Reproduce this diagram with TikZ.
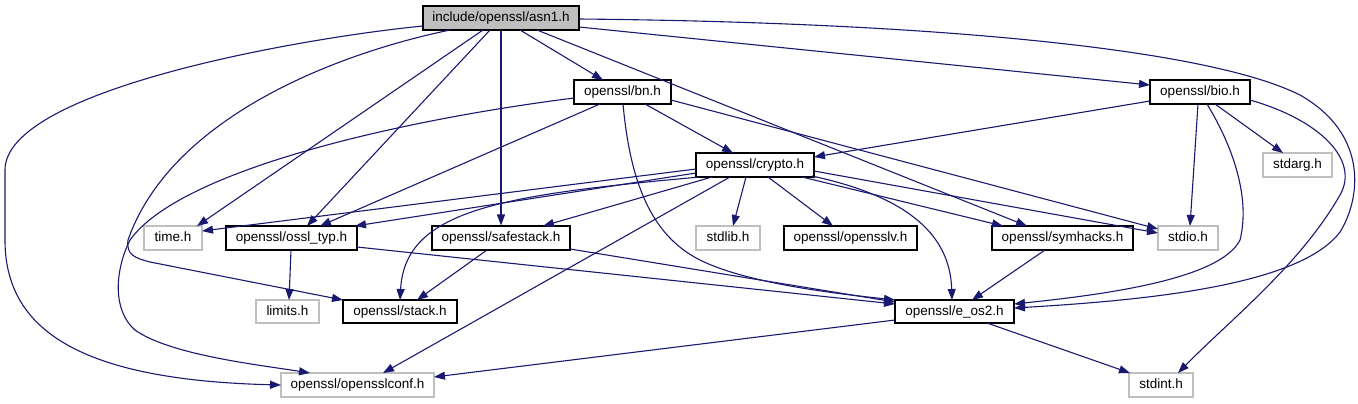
\documentclass[tikz,border=0pt]{standalone}
\usepackage{fontspec}
\setmainfont{Liberation Sans}
\usetikzlibrary{arrows.meta,calc}
\definecolor{edgeblue}{HTML}{191970}
\definecolor{nodegray}{HTML}{BFBFBF}
\tikzset{
  box/.style={draw, line width=1.1bp, minimum height=24bp, inner sep=0pt,
    text height=9.6bp, text depth=2.6bp,
    font=\fontsize{13.5bp}{16bp}\selectfont},
  doc/.style={box, draw=black},
  sys/.style={box, draw=nodegray},
  edge/.style={draw=edgeblue, line width=1.1bp, -{Triangle[length=11bp,width=8bp]}, edgeblue}
}
\begin{document}
\begin{tikzpicture}[x=1bp,y=-1bp]
\useasboundingbox (0,0) rectangle (1358,403);
% nodes
\node[doc, fill=nodegray, minimum width=156bp] (asn1) at (501,18) {include/openssl/asn1.h};
\node[doc, minimum width=97bp] (bn) at (622.5,92) {openssl/bn.h};
\node[doc, minimum width=118bp] (crypto) at (755,165) {openssl/crypto.h};
\node[doc, minimum width=100bp] (bio) at (1200,92) {openssl/bio.h};
\node[sys, minimum width=69bp] (stdarg) at (1297.5,165) {stdarg.h};
\node[sys, minimum width=58bp] (time) at (173,238) {time.h};
\node[doc, minimum width=131bp] (ossl) at (291.5,238) {openssl/ossl\_typ.h};
\node[doc, minimum width=138bp] (safe) at (501,238) {openssl/safestack.h};
\node[doc, minimum width=114bp, minimum height=23bp] (stack) at (400,311.5) {openssl/stack.h};
\node[sys, minimum width=63bp, minimum height=23bp] (limits) at (287.5,311.5) {limits.h};
\node[sys, minimum width=153bp] (conf) at (357.5,385) {openssl/opensslconf.h};
\node[sys, minimum width=64bp] (stdlib) at (728,238) {stdlib.h};
\node[doc, minimum width=133bp] (sslv) at (850.5,238) {openssl/opensslv.h};
\node[doc, minimum width=141bp] (sym) at (1062.5,238) {openssl/symhacks.h};
\node[sys, minimum width=60bp] (stdio) at (1188,238) {stdio.h};
\node[doc, minimum width=119bp, minimum height=23bp] (eos2) at (954.5,311.5) {openssl/e\_os2.h};
\node[sys, minimum width=64bp] (stdint) at (1161,385) {stdint.h};
% asn1 edges
\path[edge] ($(asn1)+(-78,8)$) .. controls (300,38) and (5,90) .. (5,170) -- (5,240) .. controls (5,330) and (80,380) .. ($(conf)+(-76.5,0)$);
\path[edge] ($(asn1)+(-51,12)$) .. controls (330,55) and (170,120) .. (128,240) .. controls (126,255) and (135,258) .. (150,262) -- ($(stack)+(-57,-11.5)$);
\path[edge] ($(asn1)+(-18,12)$) -- ($(time)+(24,-12)$);
\path[edge] ($(asn1)+(-11,12)$) -- ($(ossl)+(15.5,-12)$);
\path[edge] (asn1.south) -- (safe.north);
\path[edge] ($(asn1)+(19,12)$) -- ($(bn)+(-19.5,-12)$);
\path[edge] ($(asn1)+(36,12)$) -- ($(sym)+(-35.5,-12)$);
\path[edge] ($(asn1)+(78,9)$) -- ($(bio)+(-50,-7)$);
\path[edge] ($(asn1)+(78,1)$) .. controls (900,22) and (1200,45) .. (1300,95) .. controls (1370,135) and (1360,200) .. (1340,232) .. controls (1300,285) and (1150,300) .. ($(eos2)+(59.5,-3.5)$);
% bn edges
\path[edge] ($(bn)+(-48.5,6)$) .. controls (400,120) and (180,170) .. (130,240) .. controls (115,270) and (112,310) .. (135,330) .. controls (170,355) and (260,365) .. ($(conf)+(-47.5,-12)$);
\path[edge] ($(bn)+(-22.5,12)$) -- ($(ossl)+(28.5,-12)$);
\path[edge] ($(bn)+(0.5,12)$) .. controls (630,180) and (650,235) .. (700,260) .. controls (750,285) and (850,295) .. ($(eos2)+(-59.5,-11.5)$);
\path[edge] ($(bn)+(22.5,12)$) -- ($(crypto)+(-22,-12)$);
\path[edge] ($(bn)+(48.5,8)$) -- ($(stdio)+(-30,-9)$);
% crypto edges
\path[edge] ($(crypto)+(-59,4)$) -- ($(time)+(29,-7)$);
\path[edge] ($(crypto)+(-59,8)$) -- ($(ossl)+(63.5,-12)$);
\path[edge] ($(crypto)+(-55,12)$) .. controls (500,195) and (405,210) .. ($(stack)+(0,-11.5)$);
\path[edge] ($(crypto)+(-43,12)$) -- ($(safe)+(42,-12)$);
\path[edge] ($(crypto)+(-25,12)$) -- ($(conf)+(25.5,-12)$);
\path[edge] ($(crypto)+(-9,12)$) -- ($(stdlib)+(5,-12)$);
\path[edge] ($(crypto)+(13,12)$) -- ($(sslv)+(-17.5,-12)$);
\path[edge] ($(crypto)+(47,12)$) -- ($(sym)+(-59.5,-12)$);
\path[edge] ($(crypto)+(59,6)$) -- ($(stdio)+(-30,-5)$);
\path[edge] ($(crypto)+(57,11)$) .. controls (900,195) and (950,230) .. ($(eos2)+(-2.5,-11.5)$);
% bio edges
\path[edge] ($(bio)+(-50,9)$) -- ($(crypto)+(59,-8)$);
\path[edge] ($(bio)+(-2,12)$) -- ($(stdio)+(2,-12)$);
\path[edge] ($(bio)+(7,12)$) .. controls (1235,150) and (1250,200) .. (1240,240) .. controls (1220,280) and (1100,295) .. ($(eos2)+(59.5,-7.5)$);
\path[edge] ($(bio)+(15,12)$) -- ($(stdarg)+(-14.5,-12)$);
\path[edge] ($(bio)+(50,8)$) .. controls (1320,120) and (1360,160) .. (1340,195) .. controls (1300,265) and (1230,320) .. ($(stdint)+(17,-12)$);
% other edges
\path[edge] ($(ossl)+(-0.5,12)$) -- ($(limits)+(1.5,-11.5)$);
\path[edge] ($(ossl)+(65.5,9)$) -- ($(eos2)+(-59.5,-7.5)$);
\path[edge] ($(safe)+(-14,12)$) -- ($(stack)+(17,-11.5)$);
\path[edge] ($(safe)+(69,11)$) -- ($(eos2)+(-59.5,-9.5)$);
\path[edge] ($(sym)+(-17.5,12)$) -- ($(eos2)+(17.5,-11.5)$);
\path[edge] ($(eos2)+(-59.5,8.5)$) -- ($(conf)+(76.5,-8)$);
\path[edge] ($(eos2)+(32.5,11.5)$) -- ($(stdint)+(-31,-12)$);
\end{tikzpicture}
\end{document}
